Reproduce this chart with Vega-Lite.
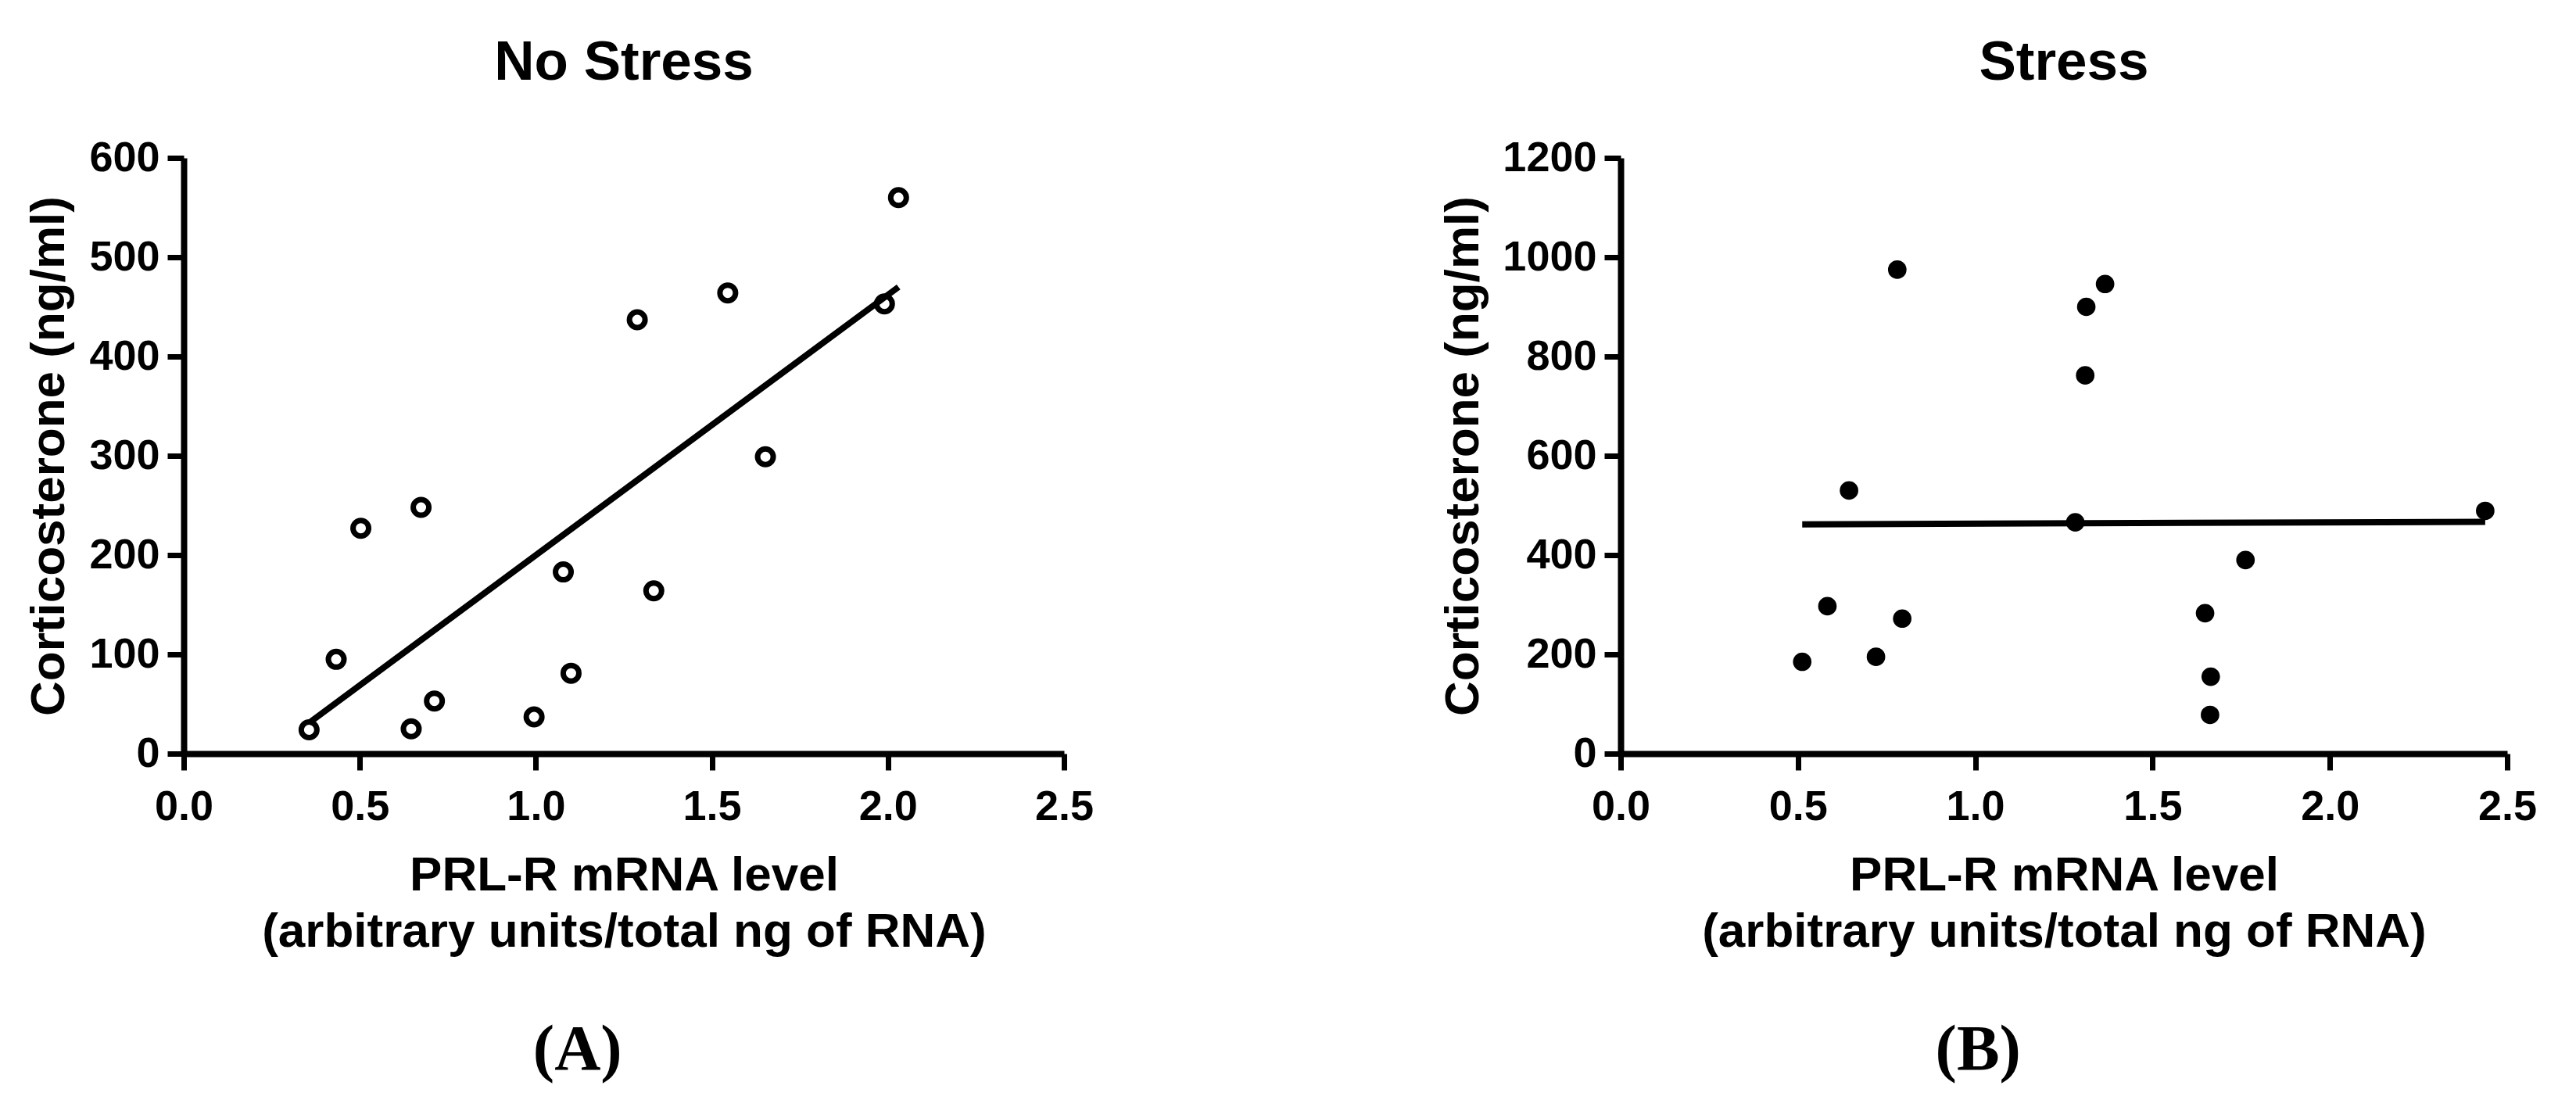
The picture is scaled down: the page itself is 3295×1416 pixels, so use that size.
{
  "$schema": "https://vega.github.io/schema/vega-lite/v6.json",
  "background": "white",
  "padding": {"left": 30, "top": 45, "right": 0, "bottom": 28},
  "config": {
    "view": {"stroke": null},
    "font": "Liberation Sans",
    "axis": {
      "grid": false,
      "domainColor": "black",
      "domainWidth": 8,
      "tickColor": "black",
      "tickWidth": 7,
      "tickSize": 21,
      "labelFont": "Liberation Sans",
      "labelFontWeight": "bold",
      "labelFontSize": 54,
      "labelColor": "black",
      "labelFlush": false,
      "labelOverlap": false,
      "titleFont": "Liberation Sans",
      "titleFontWeight": "bold",
      "titleFontSize": 62,
      "titleColor": "black"
    },
    "axisX": {"labelPadding": 20},
    "axisY": {"labelPadding": 10},
    "title": {"font": "Liberation Sans", "fontWeight": "bold", "fontSize": 71, "color": "black"}
  },
  "datasets": {
    "points": [
      {"panel": "A", "prl": 0.356, "cort": 24},
      {"panel": "A", "prl": 0.433, "cort": 95},
      {"panel": "A", "prl": 0.503, "cort": 227},
      {"panel": "A", "prl": 0.646, "cort": 25},
      {"panel": "A", "prl": 0.674, "cort": 248},
      {"panel": "A", "prl": 0.712, "cort": 53},
      {"panel": "A", "prl": 0.995, "cort": 37},
      {"panel": "A", "prl": 1.078, "cort": 183},
      {"panel": "A", "prl": 1.100, "cort": 81},
      {"panel": "A", "prl": 1.288, "cort": 437},
      {"panel": "A", "prl": 1.335, "cort": 164},
      {"panel": "A", "prl": 1.545, "cort": 464},
      {"panel": "A", "prl": 1.652, "cort": 299},
      {"panel": "A", "prl": 1.990, "cort": 453},
      {"panel": "A", "prl": 2.030, "cort": 560},
      {"panel": "B", "prl": 0.512, "cort": 185},
      {"panel": "B", "prl": 0.583, "cort": 297},
      {"panel": "B", "prl": 0.644, "cort": 530},
      {"panel": "B", "prl": 0.720, "cort": 195},
      {"panel": "B", "prl": 0.780, "cort": 975},
      {"panel": "B", "prl": 0.794, "cort": 272},
      {"panel": "B", "prl": 1.282, "cort": 466},
      {"panel": "B", "prl": 1.310, "cort": 762},
      {"panel": "B", "prl": 1.313, "cort": 900},
      {"panel": "B", "prl": 1.366, "cort": 946},
      {"panel": "B", "prl": 1.648, "cort": 283},
      {"panel": "B", "prl": 1.664, "cort": 155},
      {"panel": "B", "prl": 1.662, "cort": 78},
      {"panel": "B", "prl": 1.762, "cort": 390},
      {"panel": "B", "prl": 2.438, "cort": 489}
    ],
    "fits": [
      {"panel": "A", "prl": 0.356, "cort": 31},
      {"panel": "A", "prl": 2.030, "cort": 470},
      {"panel": "B", "prl": 0.512, "cort": 462},
      {"panel": "B", "prl": 2.438, "cort": 467}
    ]
  },
  "hconcat": [
    {
      "title": {"text": "(A)", "orient": "bottom", "font": "Liberation Serif", "fontSize": 82, "fontWeight": "bold", "baseline": "alphabetic", "offset": 146, "anchor": "middle", "frame": "bounds", "dx": 24},
      "vconcat": [
        {
          "title": {"text": "No Stress", "baseline": "alphabetic", "offset": 2, "anchor": "middle", "frame": "group"},
          "width": 1126,
          "height": 762,
          "layer": [
            {
              "data": {"name": "fits"},
              "transform": [{"filter": "datum.panel === 'A'"}],
              "mark": {"type": "line", "color": "black", "strokeWidth": 8},
              "encoding": {
                "x": {"field": "prl", "type": "quantitative", "scale": {"domain": [0, 2.5], "nice": false}, "axis": {"values": [0, 0.5, 1, 1.5, 2, 2.5], "format": ".1f", "title": ["PRL-R mRNA level", "(arbitrary units/total ng of RNA)"], "titleBaseline": "alphabetic", "titleY": 174, "titleLineHeight": 72}},
                "y": {"field": "cort", "type": "quantitative", "scale": {"domain": [0, 600], "nice": false}, "axis": {"values": [0, 100, 200, 300, 400, 500, 600], "format": "d", "title": "Corticosterone (ng/ml)", "titleBaseline": "alphabetic", "titleX": -154}}
              }
            },
            {
              "data": {"name": "points"},
              "transform": [{"filter": "datum.panel === 'A'"}],
              "mark": {"type": "point", "shape": "circle", "filled": false, "color": "black", "strokeWidth": 7, "size": 400, "opacity": 1},
              "encoding": {
                "x": {"field": "prl", "type": "quantitative"},
                "y": {"field": "cort", "type": "quantitative"}
              }
            }
          ]
        }
      ]
    },
    {
      "title": {"text": "(B)", "orient": "bottom", "font": "Liberation Serif", "fontSize": 82, "fontWeight": "bold", "baseline": "alphabetic", "offset": 146, "anchor": "middle", "frame": "bounds", "dx": -12},
      "vconcat": [
        {
          "title": {"text": "Stress", "baseline": "alphabetic", "offset": 2, "anchor": "middle", "frame": "group"},
          "width": 1134,
          "height": 762,
          "layer": [
            {
              "data": {"name": "fits"},
              "transform": [{"filter": "datum.panel === 'B'"}],
              "mark": {"type": "line", "color": "black", "strokeWidth": 8},
              "encoding": {
                "x": {"field": "prl", "type": "quantitative", "scale": {"domain": [0, 2.5], "nice": false}, "axis": {"values": [0, 0.5, 1, 1.5, 2, 2.5], "format": ".1f", "title": ["PRL-R mRNA level", "(arbitrary units/total ng of RNA)"], "titleBaseline": "alphabetic", "titleY": 174, "titleLineHeight": 72}},
                "y": {"field": "cort", "type": "quantitative", "scale": {"domain": [0, 1200], "nice": false}, "axis": {"values": [0, 200, 400, 600, 800, 1000, 1200], "format": "d", "title": "Corticosterone (ng/ml)", "titleBaseline": "alphabetic", "titleX": -183}}
              }
            },
            {
              "data": {"name": "points"},
              "transform": [{"filter": "datum.panel === 'B'"}],
              "mark": {"type": "point", "shape": "circle", "filled": true, "color": "black", "size": 560, "opacity": 1},
              "encoding": {
                "x": {"field": "prl", "type": "quantitative"},
                "y": {"field": "cort", "type": "quantitative"}
              }
            }
          ]
        }
      ]
    }
  ],
  "spacing": 440,
  "align": "none",
  "bounds": "full"
}
